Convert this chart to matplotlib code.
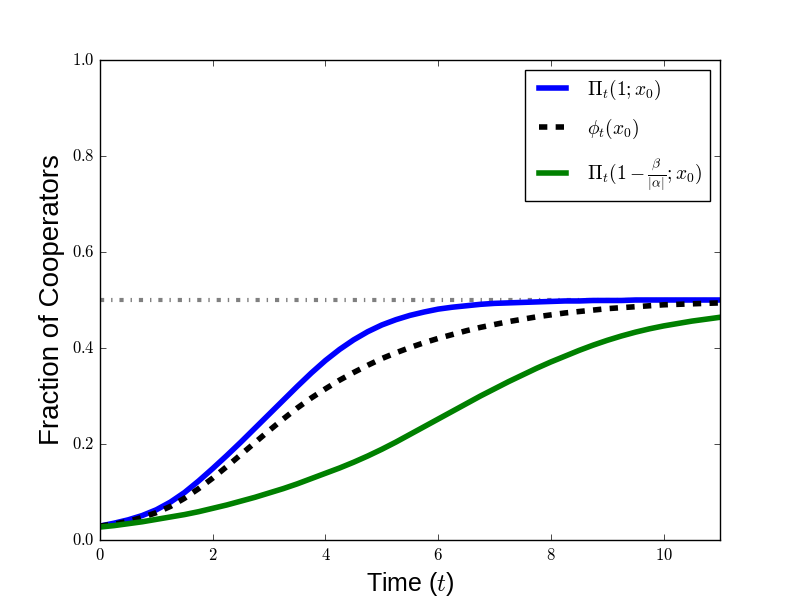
import matplotlib
matplotlib.use("Agg")
import matplotlib.pyplot as plt
from matplotlib.ticker import FuncFormatter

# values, every quarter time unit
t = [i * 0.25 for i in range(45)]
pi_one = [0.029, 0.035, 0.042, 0.051, 0.063, 0.079, 0.099, 0.123, 0.149,
          0.176, 0.204, 0.233, 0.262, 0.291, 0.320, 0.348, 0.374, 0.397,
          0.417, 0.434, 0.448, 0.459, 0.468, 0.475, 0.481, 0.485, 0.488,
          0.491, 0.493, 0.494, 0.495, 0.496, 0.497, 0.498, 0.498, 0.499,
          0.499, 0.499, 0.500, 0.500, 0.500, 0.500, 0.500, 0.500, 0.500]
phi = [0.029, 0.033, 0.039, 0.047, 0.057, 0.070, 0.087, 0.107, 0.129,
       0.153, 0.178, 0.203, 0.228, 0.252, 0.275, 0.296, 0.315, 0.333,
       0.349, 0.364, 0.378, 0.390, 0.401, 0.411, 0.420, 0.428, 0.436,
       0.443, 0.449, 0.455, 0.460, 0.465, 0.469, 0.473, 0.476, 0.479,
       0.482, 0.484, 0.486, 0.488, 0.490, 0.491, 0.492, 0.493, 0.494]
pi_beta = [0.027, 0.030, 0.034, 0.038, 0.043, 0.048, 0.053, 0.059, 0.066,
           0.073, 0.081, 0.089, 0.098, 0.107, 0.117, 0.128, 0.139, 0.150,
           0.162, 0.175, 0.189, 0.204, 0.220, 0.236, 0.252, 0.268, 0.284,
           0.300, 0.315, 0.330, 0.344, 0.358, 0.371, 0.383, 0.395, 0.406,
           0.416, 0.425, 0.433, 0.440, 0.446, 0.451, 0.456, 0.460, 0.464]
steady = 0.5

plt.style.use('classic')
plt.rcParams['mathtext.fontset'] = 'cm'

fig = plt.figure(figsize=(8, 6), dpi=100, facecolor='white')
ax = fig.add_subplot(111)

ax.axhline(steady, color='gray', linestyle='-.', linewidth=3)
ax.plot(t, pi_one, color='blue', linewidth=4, label=r'$\Pi_t(1;x_0)$')
ax.plot(t, phi, color='black', linestyle='--', linewidth=4, label=r'$\phi_t(x_0)$')
ax.plot(t, pi_beta, color='green', linewidth=4,
        label=r'$\Pi_t(1-\frac{\beta}{|\alpha|};x_0)$')

ax.set_xlim(0, 11)
ax.set_ylim(0, 1.0)
ax.set_xticks([0, 2, 4, 6, 8, 10])
ax.set_yticks([0.0, 0.2, 0.4, 0.6, 0.8, 1.0])
ax.xaxis.set_major_formatter(FuncFormatter(lambda v, p: r'$%d$' % v))
ax.yaxis.set_major_formatter(FuncFormatter(lambda v, p: r'$%.1f$' % v))
ax.tick_params(labelsize=12)

ax.set_xlabel(r'Time ($t$)', fontsize=18, family='Liberation Sans')
ax.set_ylabel('Fraction of Cooperators', fontsize=20, family='Liberation Sans')

leg = ax.legend(loc='upper right', fontsize=14, handlelength=2, labelspacing=0.8)
leg.get_frame().set_edgecolor('black')

fig.savefig('out.png', dpi=100, facecolor='white')
